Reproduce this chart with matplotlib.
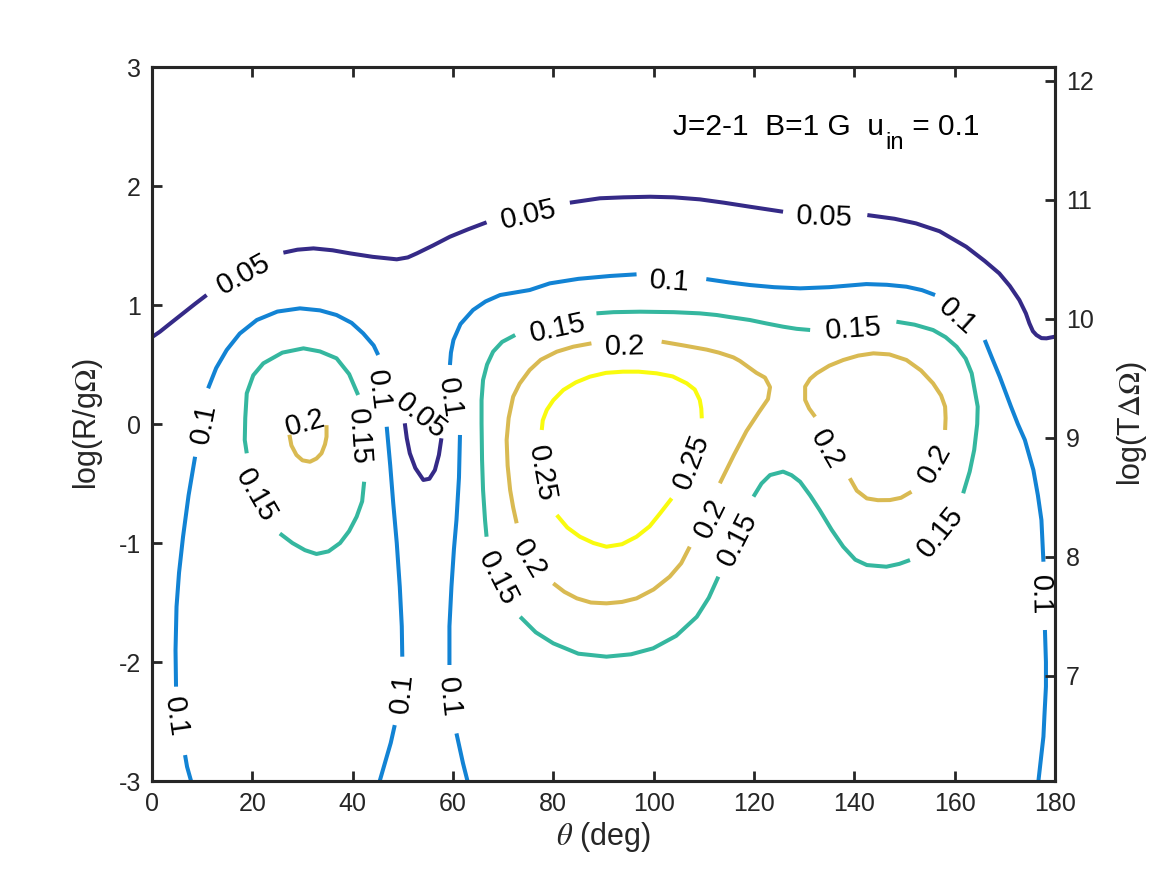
import matplotlib
matplotlib.use('Agg')
import matplotlib.pyplot as plt
from matplotlib.transforms import offset_copy

plt.rcParams['font.family'] = ['Liberation Sans', 'DejaVu Sans']
plt.rcParams['mathtext.fontset'] = 'stix'
plt.rcParams['axes.unicode_minus'] = False

# contour levels and their colours (parula)
levels = [0.05, 0.1, 0.15, 0.2, 0.25]
level_colors = ['#352a87', '#1283d4', '#35b79f', '#d9ba52', '#f9fb0e']

# traced isolines: theta (deg), log(R/gΩ); gaps are where MATLAB put the labels
iso_005 = [
    [(0, 0.73), (1.6, 0.776), (3.5, 0.84), (6.2, 0.93), (8.6, 1.01), (10.9, 1.084)],
    [(26.2, 1.44), (29, 1.465), (32.2, 1.476), (36, 1.46), (39.5, 1.434), (44, 1.405),
     (48.8, 1.384), (51, 1.40), (52.8, 1.434), (56, 1.50), (59.4, 1.574), (63, 1.636),
     (66.7, 1.695)],
    [(83.3, 1.86), (89.3, 1.897), (94, 1.905), (99.3, 1.91), (104, 1.905), (109.2, 1.888),
     (114, 1.86), (119.2, 1.826), (125.8, 1.784)],
    [(142.6, 1.756), (148, 1.725), (152.3, 1.686), (157, 1.62), (162.3, 1.49), (166, 1.37),
     (168.9, 1.266), (171, 1.16), (172.9, 1.042), (174.2, 0.93), (174.9, 0.846),
     (175.6, 0.78), (176.3, 0.748), (177.3, 0.722), (178.3, 0.72), (180, 0.734)],
    [(50.4, 0.006), (50.8, -0.12), (51.4, -0.246), (52.5, -0.37), (54.1, -0.47),
     (55.3, -0.46), (56.4, -0.387), (57.2, -0.26), (57.7, -0.12)],
]

iso_010 = [
    [(7.8, -3.0), (7.0, -2.88), (6.6, -2.782)],
    [(4.8, -2.207), (4.7, -1.9), (4.9, -1.535), (5.4, -1.25), (6.2, -0.947), (7.3, -0.6),
     (8.6, -0.275)],
    [(11.2, 0.30), (12.8, 0.47), (14.9, 0.622), (17.5, 0.76), (20.9, 0.874), (25, 0.945),
     (29.5, 0.972), (33.5, 0.955), (36.8, 0.916), (39.8, 0.85), (42.1, 0.762),
     (44.2, 0.66), (45.1, 0.58)],
    [(46.8, -0.023), (47.5, -0.35), (48.1, -0.667), (48.8, -1.0), (49.4, -1.367),
     (49.8, -1.7), (49.9, -1.955)],
    [(48.4, -2.53), (47.6, -2.68), (46.8, -2.796), (45.4, -3.0)],
    [(62.9, -3.0), (62.0, -2.85), (60.7, -2.6)],
    [(59.3, -2.025), (59.3, -1.7), (59.7, -1.367), (60.2, -1.05), (60.7, -0.807),
     (61.2, -0.45), (61.4, -0.092)],
    [(59.4, 0.496), (59.6, 0.6), (60.1, 0.706), (61.5, 0.84), (64.0, 0.958), (66.5, 1.03),
     (69.4, 1.084), (75.3, 1.126), (79.3, 1.182), (85, 1.22), (91.3, 1.244), (96.6, 1.258)],
    [(110.5, 1.218), (115, 1.19), (119.2, 1.168), (124, 1.15), (129.2, 1.14), (135, 1.15),
     (142.4, 1.176), (146.5, 1.17), (150.4, 1.154), (153.5, 1.125), (156.1, 1.084)],
    [(166.0, 0.706), (167.5, 0.55), (169, 0.397), (171.2, 0.15), (172.6, 0.0),
     (174, -0.134), (175.7, -0.387), (176.6, -0.6), (177.3, -0.807), (177.7, -1.157)],
    [(178.0, -1.731), (178.2, -2.0), (178.2, -2.207), (177.9, -2.45), (177.7, -2.627),
     (176.7, -3.0)],
]

iso_015 = [
    [(18.9, -0.246), (18.5, -0.134), (18.6, 0.05), (18.9, 0.258), (20.2, 0.41),
     (22.2, 0.51), (26, 0.6), (30.2, 0.636), (33.5, 0.61), (36.8, 0.552), (39.3, 0.42),
     (41.1, 0.244)],
    [(42.3, -0.485), (41.9, -0.65), (40.8, -0.779), (39.3, -0.9), (37.5, -1.0),
     (35.2, -1.07), (32.8, -1.092), (30.5, -1.06), (28, -1.0), (25.5, -0.92)],
    [(72.4, 0.748), (69.8, 0.69), (68.0, 0.608), (66.8, 0.5), (66.0, 0.37), (65.7, 0.2),
     (65.7, 0.006), (65.8, -0.3), (66.0, -0.555), (66.4, -0.81), (66.7, -0.947)],
    [(73.4, -1.62), (76.5, -1.75), (80.0, -1.843), (85, -1.93), (90.6, -1.955),
     (95.5, -1.935), (99.9, -1.885), (104.5, -1.78), (108.6, -1.62), (111, -1.46),
     (112.9, -1.283)],
    [(119.9, -0.61), (121.5, -0.5), (123.2, -0.429), (125.8, -0.40), (127.5, -0.43),
     (129.2, -0.485), (131.2, -0.6), (133.1, -0.723), (135.5, -0.89), (137.8, -1.031),
     (140.2, -1.14), (142.5, -1.185), (146.4, -1.199), (149, -1.175), (151.1, -1.143)],
    [(161.7, -0.582), (163.0, -0.4), (163.9, -0.218), (164.5, 0.0), (164.6, 0.146),
     (163.4, 0.426), (162.2, 0.55), (160.4, 0.65), (158.2, 0.73), (155.7, 0.79),
     (152, 0.835), (148.4, 0.86)],
    [(131.2, 0.79), (128.5, 0.8), (125.8, 0.818), (122.5, 0.845), (119.2, 0.874),
     (115, 0.9), (112.6, 0.916), (109.2, 0.93), (104, 0.94), (97.3, 0.944), (92, 0.94),
     (88.6, 0.93)],
]

iso_020 = [
    [(27.4, -0.09), (27.8, -0.18), (28.8, -0.26), (30.0, -0.305), (31.5, -0.317),
     (32.8, -0.29), (33.8, -0.246), (34.5, -0.17), (34.8, -0.107), (34.8, -0.01)],
    [(87.6, 0.678), (84, 0.65), (80.7, 0.608), (77.5, 0.54), (75.3, 0.454), (73.3, 0.34),
     (72.0, 0.23), (71.1, 0.05), (70.7, -0.134), (70.9, -0.35), (71.4, -0.555),
     (72.0, -0.7), (72.7, -0.834)],
    [(80.0, -1.339), (82.2, -1.41), (84.7, -1.465), (87.5, -1.5), (90.6, -1.507),
     (93.7, -1.495), (96.6, -1.465), (100, -1.39), (103.2, -1.283), (105.5, -1.17),
     (107.2, -1.031)],
    [(113.2, -0.498), (116, -0.26), (118.5, -0.06), (121, 0.1), (122.8, 0.21),
     (123.2, 0.31), (122.2, 0.39), (120.5, 0.43), (117.2, 0.53), (115.9, 0.56),
     (113, 0.6), (110.6, 0.625), (106, 0.66), (101.6, 0.692)],
    [(132.2, 0.061), (131.0, 0.13), (130.2, 0.202), (130.2, 0.314), (131.2, 0.38),
     (132.5, 0.426), (135, 0.49), (137.8, 0.538), (140.8, 0.575), (143.8, 0.594),
     (147, 0.585), (150.4, 0.538), (153.3, 0.45), (155.7, 0.342), (157.3, 0.24),
     (158.1, 0.146), (158.2, 0.05), (158.1, -0.05)],
    [(151.4, -0.569), (149.3, -0.62), (147.1, -0.639), (144.7, -0.64), (142.5, -0.625),
     (140.5, -0.56), (139.1, -0.456)],
]

iso_025 = [
    [(109.6, 0.048), (109.5, 0.13), (109.2, 0.202), (108.2, 0.29), (106.6, 0.342),
     (103.8, 0.4), (100.6, 0.426), (97, 0.44), (93.9, 0.44), (90.5, 0.43), (87.3, 0.398),
     (84.5, 0.35), (82.0, 0.286), (80, 0.2), (78.7, 0.118), (77.9, 0.03), (77.7, -0.05)],
    [(80.7, -0.765), (82.8, -0.87), (85.3, -0.947), (88, -1.0), (90.6, -1.031),
     (93.7, -1.01), (96.6, -0.947), (99.2, -0.86), (101.3, -0.75), (103.6, -0.625)],
]

isolines = [iso_005, iso_010, iso_015, iso_020, iso_025]

# contour labels: theta, logR, text, angle
label_theta = [18.1, 74.9, 134.1, 54.0,
               5.4, 9.8, 45.8, 49.2, 59.8, 60.0, 103.2, 161.0, 177.6,
               21.3, 41.9, 80.7, 69.4, 116.2, 156.7, 139.7,
               30.5, 94.3, 75.7, 110.8, 155.5, 135.1,
               78.3, 107.0]
label_logr = [1.277, 1.78, 1.765, 0.084,
              -2.46, 0.008, 0.29, -2.26, -2.29, 0.22, 1.227, 0.924, -1.44,
              -0.59, -0.10, 0.832, -1.29, -0.96, -0.89, 0.824,
              0.034, 0.672, -1.12, -0.78, -0.32, -0.20,
              -0.41, -0.31]
label_text = ['0.05'] * 4 + ['0.1'] * 9 + ['0.15'] * 7 + ['0.2'] * 6 + ['0.25'] * 2
label_angle = [29, 13, -2, -38,
               -82, 79, -83, 84, -84, -82, -4, -42, -89,
               -60, -86, 12, -63, 63, 51, 4,
               15, 1, -59, 64, 61, -60,
               -80, 69]

# right axis offset: log(TΔΩ) = log(R/gΩ) + offset
right_offset = 9.115

fig = plt.figure(figsize=(11.67, 8.75), dpi=100)
ax = fig.add_axes([0.1302, 0.1074, 0.7738, 0.816])

axis_col = '#262626'
ax.set_xlim(0, 180)
ax.set_ylim(-3, 3)
ax.set_xticks(range(0, 181, 20))
ax.set_yticks(range(-3, 4))

for segs, col in zip(isolines, level_colors):
    for seg in segs:
        xs = [p[0] for p in seg]
        ys = [p[1] for p in seg]
        ax.plot(xs, ys, color=col, lw=2.9, solid_capstyle='butt',
                solid_joinstyle='round', zorder=2)

for x, y, t, a in zip(label_theta, label_logr, label_text, label_angle):
    ax.text(x, y, t, rotation=a, rotation_mode='anchor', ha='center',
            va='center_baseline', fontsize=21, color='black', zorder=3)

# annotation with a MATLAB-like subscript, built from three pieces
t1 = ax.text(103.8, 2.43, 'J=2-1  B=1 G  u', fontsize=21.5, ha='left', va='baseline')
fig.canvas.draw()
x_end = ax.transData.inverted().transform((t1.get_window_extent().x1, 0))[0]
t2 = ax.text(x_end, 2.43, 'in', fontsize=17, ha='left', va='baseline',
             transform=offset_copy(ax.transData, fig, x=2, y=-14, units='dots'))
fig.canvas.draw()
x_end = ax.transData.inverted().transform((t2.get_window_extent().x1, 0))[0]
ax.text(x_end, 2.43, ' = 0.1', fontsize=21.5, ha='left', va='baseline',
        transform=offset_copy(ax.transData, fig, x=0, y=0, units='dots'))

ax.set_xlabel(r'$\theta$ (deg)', fontsize=22, color=axis_col, labelpad=3)
ax.set_ylabel(r'log(R/g$\Omega$)', fontsize=22, color=axis_col, labelpad=10)
ax.tick_params(direction='in', length=7, width=2, top=True, right=False,
               labelsize=18, colors=axis_col, pad=8)

ax2 = ax.twinx()
ax2.set_ylim(-3 + right_offset, 3 + right_offset)
ax2.set_yticks(range(7, 13))
ax2.set_ylabel(r'log(T$\Delta\Omega$)', fontsize=22, color=axis_col, labelpad=15)
ax2.tick_params(direction='in', length=7, width=2, labelsize=18,
                colors=axis_col, pad=8)

for a in (ax, ax2):
    for sp in a.spines.values():
        sp.set_linewidth(2.2)
        sp.set_color(axis_col)

fig.savefig('out.png', dpi=100)
